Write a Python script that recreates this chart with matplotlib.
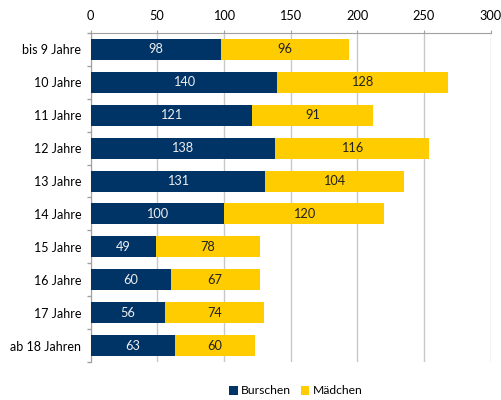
import matplotlib
matplotlib.use("Agg")
import matplotlib.pyplot as plt
from matplotlib.ticker import FixedLocator
import numpy as np

categories = ["bis 9 Jahre", "10 Jahre", "11 Jahre", "12 Jahre", "13 Jahre",
              "14 Jahre", "15 Jahre", "16 Jahre", "17 Jahre", "ab 18 Jahren"]
burschen = [98, 140, 121, 138, 131, 100, 49, 60, 56, 63]
maedchen = [96, 128, 91, 116, 104, 120, 78, 67, 74, 60]
xticks = [0, 50, 100, 150, 200, 250, 300]

plt.rcParams['font.family'] = ['Lato', 'DejaVu Sans']
navy = "#003366"
yellow = "#FFCC00"

fig = plt.figure(figsize=(5.01, 4.0), dpi=100)
ax = fig.add_axes([90.5/501, 1-362/400, 400/501, 329/400])

y = np.arange(len(categories))
h = 0.64
ax.barh(y, burschen, height=h, color=navy, label="Burschen", zorder=3)
ax.barh(y, maedchen, left=burschen, height=h, color=yellow, label="Mädchen", zorder=3)

for i in range(len(categories)):
    ax.text(burschen[i]/2, y[i], str(burschen[i]), ha="center", va="center",
            color="#EEEEEE", fontsize=9.2, zorder=4)
    ax.text(burschen[i] + maedchen[i]/2, y[i], str(maedchen[i]), ha="center", va="center",
            color="#222222", fontsize=9.2, zorder=4)

ax.set_xlim(0, 300)
ax.set_ylim(len(categories)-0.5, -0.5)
ax.set_yticks(y)
ax.set_yticklabels(categories, fontsize=9)
ax.yaxis.set_minor_locator(FixedLocator(np.arange(-0.5, len(categories), 1.0)))
ax.tick_params(axis="y", which="major", length=0, pad=6.5)
ax.tick_params(axis="y", which="minor", length=3, color="#A0A0A0", width=1)
ax.xaxis.tick_top()
ax.set_xticks(xticks)
ax.tick_params(axis="x", which="major", length=2.5, color="#A0A0A0", labelsize=9.2, pad=5.3)
ax.grid(axis="x", color="#C8C8C8", linewidth=1, zorder=0)
for s in ["right", "bottom"]:
    ax.spines[s].set_visible(False)
ax.spines["top"].set_color("#A0A0A0")
ax.spines["left"].set_color("#A0A0A0")

fig.legend(loc="center", bbox_to_anchor=(296/501, 1-391/400), ncol=2, frameon=False,
           fontsize=8.7, handlelength=0.7, handleheight=0.7, handletextpad=0.3,
           columnspacing=0.8)

fig.savefig("out.png", dpi=100)
